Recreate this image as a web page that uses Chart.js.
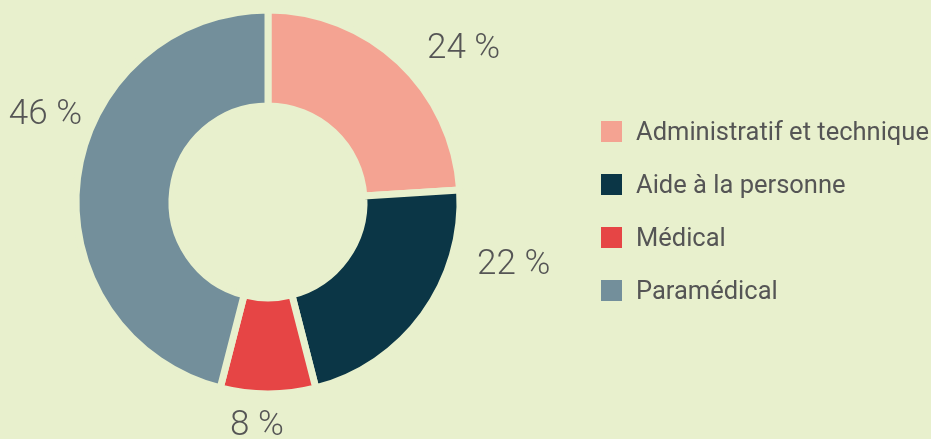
<!DOCTYPE html>
<html>
<head>
<meta charset="utf-8">
<script src="https://cdn.jsdelivr.net/npm/chart.js@4"></script>
<style>
  html, body { margin: 0; padding: 0; background: #e8f0cd; }
  #wrap { position: relative; width: 931px; height: 439px; }
  #legend { position: absolute; left: 601px; top: 118px; font-family: Roboto, sans-serif; font-size: 25.5px; color: #555; }
  .item { display: flex; align-items: center; height: 26px; margin-bottom: 27px; white-space: nowrap; }
  .box { width: 21px; height: 21px; margin-right: 14px; }
</style>
</head>
<body>
<div id="wrap">
  <canvas id="myChart" width="931" height="439"></canvas>
  <div id="legend"></div>
</div>
<script>
// Share of staff by category (%)
const categories = ['Administratif et technique', 'Aide à la personne', 'Médical', 'Paramédical'];
const shares = [24, 22, 8, 46];
const sliceColors = ['#f4a392', '#0b3646', '#e64545', '#738f9b'];

const bgColor = '#e8f0cd';

// where each percent label sits: angle from top (deg, clockwise) and distance as a fraction of outer radius
const labelPlacement = [
  { angle: 52.1, dist: 1.291 },
  { angle: 104.5, dist: 1.322 },
  { angle: 182.8, dist: 1.171 },
  { angle: 291.4, dist: 1.245 }
];

const outsideLabels = {
  id: 'outsideLabels',
  afterDraw(chart) {
    const { ctx } = chart;
    const meta = chart.getDatasetMeta(0);
    const arc0 = meta.data[0];
    if (!arc0) return;
    const cx = arc0.x, cy = arc0.y, r = arc0.outerRadius;
    ctx.save();
    ctx.font = '300 35px Roboto, sans-serif';
    ctx.fillStyle = '#555';
    ctx.textAlign = 'center';
    ctx.textBaseline = 'middle';
    chart.data.datasets[0].data.forEach((v, i) => {
      const p = labelPlacement[i];
      const a = p.angle * Math.PI / 180;
      const x = cx + Math.sin(a) * r * p.dist;
      const y = cy - Math.cos(a) * r * p.dist;
      ctx.fillText(v + ' %', x, y);
    });
    ctx.restore();
  }
};

const ctx = document.getElementById('myChart').getContext('2d');
const myChart = new Chart(ctx, {
  type: 'doughnut',
  data: {
    labels: categories,
    datasets: [{
      data: shares,
      backgroundColor: sliceColors,
      borderColor: bgColor,
      borderWidth: 7
    }]
  },
  plugins: [outsideLabels],
  options: {
    responsive: false,
    animation: false,
    cutout: '50%',
    layout: { padding: { left: 72.5, right: 467.5, top: 6.5, bottom: 41.5 } },
    plugins: {
      legend: { display: false },
      tooltip: { enabled: false }
    }
  }
});

// Legend as HTML
const legendEl = document.getElementById('legend');
categories.forEach((name, i) => {
  const row = document.createElement('div');
  row.className = 'item';
  const box = document.createElement('span');
  box.className = 'box';
  box.style.background = sliceColors[i];
  const txt = document.createElement('span');
  txt.textContent = name;
  row.appendChild(box);
  row.appendChild(txt);
  legendEl.appendChild(row);
});
</script>
</body>
</html>
